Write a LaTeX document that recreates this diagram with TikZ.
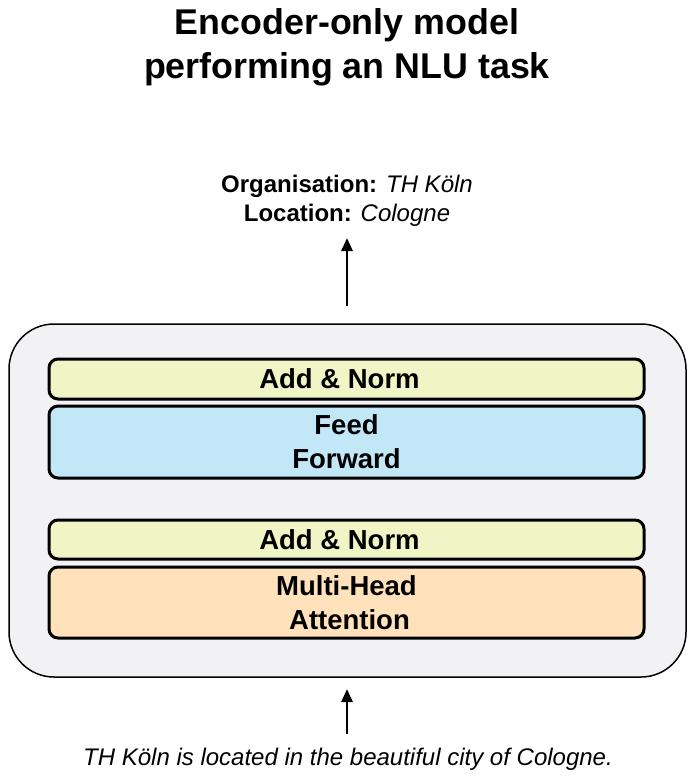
\documentclass[tikz,border=0pt]{standalone}
\usepackage{fontspec}
\setmainfont{Liberation Sans}
\usetikzlibrary{arrows.meta}
\definecolor{outerfill}{HTML}{F2F2F5}
\definecolor{normfill}{HTML}{F1F4C4}
\definecolor{fffill}{HTML}{C2E7F7}
\definecolor{mhafill}{HTML}{FFE1BB}
\tikzset{
  layerbox/.style={draw=black, line width=3pt, rounded corners=9pt, minimum width=595pt, inner sep=0pt, align=center, font=\fontsize{27.5}{34}\selectfont\bfseries},
  uparrow/.style={line width=2.8pt, -{Triangle[length=13pt,width=11pt]}},
}
\begin{document}
\begin{tikzpicture}[x=1pt,y=-1pt]
\useasboundingbox (0,0) rectangle (693,782);
\node[align=center, font=\fontsize{35.8}{44}\selectfont\bfseries] (title) at (347,47.5) {Encoder-only model\\performing an NLU task};
\node[draw=black, line width=1.5pt, fill=outerfill, rounded corners=45pt, minimum width=677pt, minimum height=353pt, inner sep=0pt] (enc) at (347.5,500.5) {};
\node[layerbox, fill=normfill, minimum height=40pt] (an1) at (346.5,379) {Add \& Norm\hspace*{14pt}};
\node[layerbox, fill=fffill, minimum height=72pt] (ff) at (346.5,442) {Feed\\Forward};
\node[layerbox, fill=normfill, minimum height=39pt] (an2) at (346.5,539.5) {Add \& Norm\hspace*{14pt}};
\node[layerbox, fill=mhafill, minimum height=71pt] (mha) at (346.5,602.5) {Multi-Head\\\hspace*{6pt}Attention};
\node[align=center, font=\fontsize{24}{29}\selectfont] (out) at (347,201) {\textbf{Organisation:} \textit{TH Köln}\\\textbf{Location:} \textit{Cologne}};
\node[font=\fontsize{24}{29}\selectfont\itshape] (inp) at (348,759) {TH Köln is located in the beautiful city of Cologne.};
\coordinate (outtail) at (347,306);
\coordinate (outhead) at (347,238);
\coordinate (intail) at (347,734);
\coordinate (inhead) at (347,689);
\draw[uparrow] (outtail) -- (outhead);
\draw[uparrow] (intail) -- (inhead);
\end{tikzpicture}
\end{document}
